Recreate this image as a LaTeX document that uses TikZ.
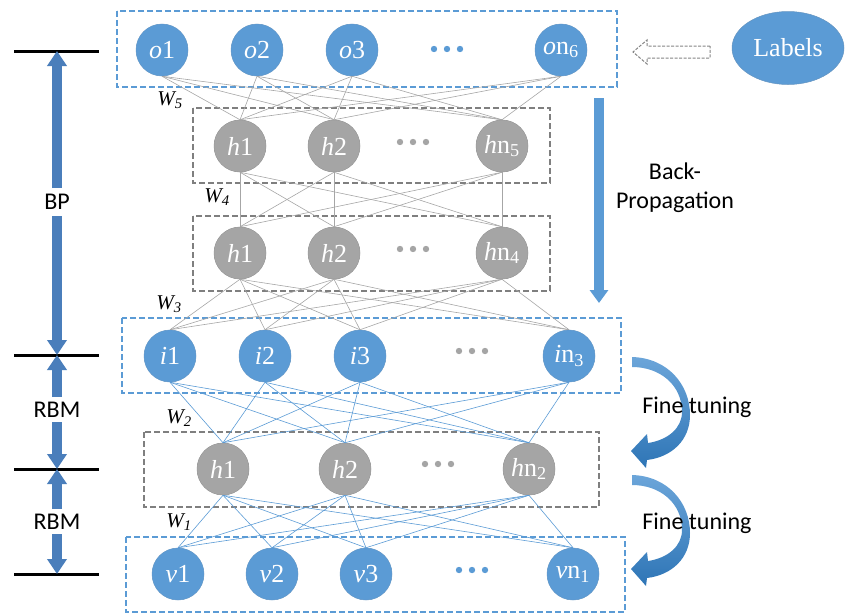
\documentclass[tikz,border=0pt]{standalone}
\usepackage{fontspec}
\setmainfont{Liberation Serif}
\newfontfamily\calibrifont{Carlito}
\usetikzlibrary{arrows.meta,shapes.geometric}

\definecolor{nodeblue}{HTML}{5B9BD5}
\definecolor{nodegray}{HTML}{A5A5A5}
\definecolor{boxgray}{HTML}{7F7F7F}
\definecolor{steel}{HTML}{4A7EBB}
\definecolor{linkgray}{HTML}{A6A6A6}
\definecolor{deepblue}{HTML}{2E75B6}

\tikzset{
  unit/.style={circle, minimum size=52pt, inner sep=0pt, line width=0.5pt,
    text=white, font=\fontsize{26}{26}\selectfont},
  unitblue/.style={unit, fill=nodeblue, draw=nodeblue!75!gray},
  unitgray/.style={unit, fill=nodegray, draw=nodegray!85!black},
  layerblue/.style={draw=nodeblue, line width=1.4pt, dash pattern=on 6pt off 3pt},
  layergray/.style={draw=boxgray, line width=1.4pt, dash pattern=on 6pt off 3pt},
  linkg/.style={draw=linkgray, line width=0.6pt},
  linkb/.style={draw=nodeblue, line width=0.6pt},
  wlabel/.style={font=\fontsize{21}{21}\selectfont\itshape, inner sep=0pt},
  sidetext/.style={font=\calibrifont\fontsize{24}{29}\selectfont, inner sep=0pt, align=center},
  sidearrow/.style={draw=steel, line width=10pt, -{Triangle[width=19pt,length=15pt]}},
  tick/.style={draw=black, line width=3pt},
  dotb/.style={fill=nodeblue},
  dotg/.style={fill=nodegray}
}

\begin{document}
\begin{tikzpicture}[x=1pt, y=-1pt]
\useasboundingbox (0,0) rectangle (848,613);

% layer frames
\draw[layerblue] (117,11) rectangle (617,87);
\draw[layergray] (193,108) rectangle (550,183);
\draw[layergray] (193,216) rectangle (550,291);
\draw[layerblue] (122,318) rectangle (621,393);
\draw[layergray] (144,432) rectangle (599,507);
\draw[layerblue] (126,537) rectangle (625,612);

% units (drawn empty first so the links can end on their borders)
\node[unitblue] (o1) at (162,50) {};
\node[unitblue] (o2) at (257,50) {};
\node[unitblue] (o3) at (352,50) {};
\node[unitblue] (o4) at (561,50) {};

\node[unitgray] (p1) at (240,146) {};
\node[unitgray] (p2) at (334,146) {};
\node[unitgray] (p3) at (502,146) {};

\node[unitgray] (q1) at (240,253) {};
\node[unitgray] (q2) at (334,253) {};
\node[unitgray] (q3) at (502,253) {};

\node[unitblue] (i1) at (170,356) {};
\node[unitblue] (i2) at (265,356) {};
\node[unitblue] (i3) at (360,356) {};
\node[unitblue] (i4) at (569,356) {};

\node[unitgray] (r1) at (223,469) {};
\node[unitgray] (r2) at (345,469) {};
\node[unitgray] (r3) at (529,469) {};

\node[unitblue] (v1) at (178,574) {};
\node[unitblue] (v2) at (272,574) {};
\node[unitblue] (v3) at (366,574) {};
\node[unitblue] (v4) at (573,574) {};

% weights between layers
\foreach \a in {o1,o2,o3,o4} \foreach \b in {p1,p2,p3}
  \draw[linkg] (\a.south) -- (\b.north);
\foreach \a in {p1,p2,p3} \foreach \b in {q1,q2,q3}
  \draw[linkg] (\a.south) -- (\b.north);
\foreach \a in {q1,q2,q3} \foreach \b in {i1,i2,i3,i4}
  \draw[linkg] (\a.south) -- (\b.north);
\foreach \a in {i1,i2,i3,i4} \foreach \b in {r1,r2,r3}
  \draw[linkb] (\a.south) -- (\b.north);
\foreach \a in {r1,r2,r3} \foreach \b in {v1,v2,v3,v4}
  \draw[linkb] (\a.south) -- (\b.north);

% unit faces and names on top of the links
\foreach \n in {o1,o2,o3,o4,i1,i2,i3,i4,v1,v2,v3,v4}
  \fill[nodeblue] (\n) circle (25.7pt);
\foreach \n in {p1,p2,p3,q1,q2,q3,r1,r2,r3}
  \fill[nodegray] (\n) circle (25.7pt);
\foreach \n/\t in {o1/{\textit{o}1},o2/{\textit{o}2},o3/{\textit{o}3},o4/{\textit{o}n\textsubscript{6}},
                   p1/{\textit{h}1},p2/{\textit{h}2},p3/{\textit{h}n\textsubscript{5}},
                   q1/{\textit{h}1},q2/{\textit{h}2},q3/{\textit{h}n\textsubscript{4}},
                   i1/{\textit{i}1},i2/{\textit{i}2},i3/{\textit{i}3},i4/{\textit{i}n\textsubscript{3}},
                   r1/{\textit{h}1},r2/{\textit{h}2},r3/{\textit{h}n\textsubscript{2}},
                   v1/{\textit{v}1},v2/{\textit{v}2},v3/{\textit{v}3},v4/{\textit{v}n\textsubscript{1}}}
  \node[text=white, font=\fontsize{26}{26}\selectfont, inner sep=0pt] at (\n) {\t};

% ellipsis dots
\foreach \x in {434,447,460} \fill[dotb] (\x,49) circle (3.2pt);
\foreach \x in {400,413,426} \fill[dotg] (\x,142) circle (3.2pt);
\foreach \x in {400,413,426} \fill[dotg] (\x,249) circle (3.2pt);
\foreach \x in {459,472,485} \fill[dotg] (\x,351) circle (3.2pt);
\foreach \x in {425,438,451} \fill[dotg] (\x,464) circle (3.2pt);
\foreach \x in {459,472,485} \fill[dotb] (\x,570) circle (3.2pt);

% weight labels
\node[wlabel] (w5) at (170,100) {W\textsubscript{5}};
\node[wlabel] (w4) at (217,197) {W\textsubscript{4}};
\node[wlabel] (w3) at (169,304) {W\textsubscript{3}};
\node[wlabel] (w2) at (179,418) {W\textsubscript{2}};
\node[wlabel] (w1) at (179,522) {W\textsubscript{1}};

% label source and hollow arrow
\node[ellipse, fill=nodeblue, draw=nodeblue!75!gray, line width=0.5pt,
      minimum width=112pt, minimum height=73pt, inner sep=0pt,
      text=white, font=\fontsize{26}{26}\selectfont] (lab) at (788,48) {Labels};
\draw[draw=linkgray!80!black, line width=1pt, dash pattern=on 3pt off 1.5pt, fill=white]
  (710,46) -- (647,46) -- (647,40) -- (633,52) -- (647,64) -- (647,58) -- (710,58) -- cycle;

% back-propagation arrow
\coordinate (bpa) at (599,98);
\coordinate (bpb) at (599,303);
\draw[draw=nodeblue, line width=10pt, -{Triangle[width=18pt,length=13pt]}] (bpa) -- (bpb);
\node[sidetext] (bptext) at (675,188) {Back-\\Propagation};

% fine tuning arrows
\foreach \dy in {0,118} {
  \begin{scope}[yshift=-\dy pt]
    \shade[top color=nodeblue!90, bottom color=deepblue]
      (632,357) .. controls (668,358) and (690,385) .. (690,415)
      .. controls (690,440) and (672,457) .. (647,460)
      -- (646,468) -- (631,451) -- (647,434) -- (648,443)
      .. controls (668,440) and (682,428) .. (682,412)
      .. controls (682,385) and (660,367) .. (632,367) -- cycle;
  \end{scope}
}
\node[sidetext] (ft1) at (697,407) {Fine tuning};
\node[sidetext] (ft2) at (697,523) {Fine tuning};

% training scale on the left
\coordinate (t1) at (57,51);
\coordinate (t2) at (57,355);
\coordinate (t3) at (57,469);
\coordinate (t4) at (57,574);
\foreach \t in {t1,t2,t3,t4} \draw[tick] ([xshift=-43pt]\t) -- ([xshift=42pt]\t);

\node[sidetext] (bp) at (57,202) {BP};
\node[sidetext] (rbm1) at (57,410) {RBM};
\node[sidetext] (rbm2) at (57,522) {RBM};

\coordinate (bpu) at (57,188);
\coordinate (bpd) at (57,216);
\coordinate (r1u) at (57,397);
\coordinate (r1d) at (57,422);
\coordinate (r2u) at (57,509);
\coordinate (r2d) at (57,534);
\draw[sidearrow] (bpu) -- (t1);
\draw[sidearrow] (bpd) -- (t2);
\draw[sidearrow] (r1u) -- (t2);
\draw[sidearrow] (r1d) -- (t3);
\draw[sidearrow] (r2u) -- (t3);
\draw[sidearrow] (r2d) -- (t4);
\end{tikzpicture}
\end{document}
